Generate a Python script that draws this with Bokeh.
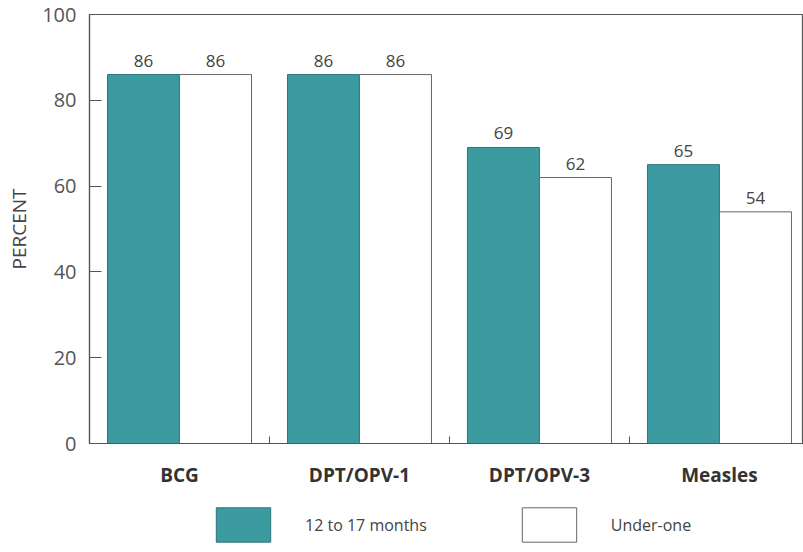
from bokeh.plotting import figure
from bokeh.models import (ColumnDataSource, Range1d, FixedTicker, LabelSet, Legend, LegendItem)
from bokeh.layouts import column
from bokeh.core.properties import value
from bokeh.embed import file_html
from bokeh.resources import INLINE

categories = ["BCG", "DPT/OPV-1", "DPT/OPV-3", "Measles"]
months_12_17 = [86, 86, 69, 65]
under_one = [86, 86, 62, 54]
y_ticks = [0, 20, 40, 60, 80, 100]
series_names = ["12 to 17 months", "Under-one"]

idx = list(range(len(categories)))
src1 = ColumnDataSource(dict(x=[i + 0.3 for i in idx], top=months_12_17, lab=[str(v) for v in months_12_17]))
src2 = ColumnDataSource(dict(x=[i + 0.7 for i in idx], top=under_one, lab=[str(v) for v in under_one]))

FONT = "Open Sans"
TEAL = "#3b9ba0"
TEAL_EDGE = "#2e7478"
GREY = "#555555"

p = figure(width=803, height=490, output_backend="svg", toolbar_location=None,
           x_range=Range1d(0, 3.967), y_range=Range1d(0, 100),
           min_border_left=89, min_border_right=0, min_border_top=14, min_border_bottom=45)
p.xgrid.visible = False
p.ygrid.visible = False
p.outline_line_color = GREY
p.outline_line_width = 1.2

p.vbar(x="x", top="top", width=0.4, bottom=0, source=src1, fill_color=TEAL, line_color=TEAL_EDGE, line_width=1)
p.vbar(x="x", top="top", width=0.4, bottom=0, source=src2, fill_color="white", line_color="#666666", line_width=1)

for s in (src1, src2):
    p.add_layout(LabelSet(x="x", y="top", text="lab", source=s, y_offset=8, text_align="center",
                          text_baseline="bottom", text_font=value(FONT), text_font_size="17px",
                          text_color="#444444"))

# x axis
xa = p.xaxis[0]
xa.ticker = FixedTicker(ticks=[i + 0.5 for i in idx], minor_ticks=[i for i in idx[1:]])
xa.major_label_overrides = {i + 0.5: c for i, c in zip(idx, categories)}
xa.major_tick_line_color = None
xa.major_tick_in = 0
xa.major_tick_out = 0
xa.minor_tick_in = 7
xa.minor_tick_out = 0
xa.minor_tick_line_color = GREY
xa.axis_line_color = GREY
xa.axis_line_width = 1.2
xa.major_label_text_font = FONT
xa.major_label_text_font_style = "bold"
xa.major_label_text_font_size = "19px"
xa.major_label_text_color = "#333333"
xa.major_label_standoff = 18

# y axis
ya = p.yaxis[0]
ya.ticker = FixedTicker(ticks=y_ticks)
ya.minor_tick_line_color = None
ya.major_tick_in = 12
ya.major_tick_out = 0
ya.major_tick_line_color = GREY
ya.axis_line_color = GREY
ya.axis_line_width = 1.2
ya.major_label_text_font = FONT
ya.major_label_text_font_size = "20px"
ya.major_label_text_color = "#555555"
ya.major_label_standoff = 13
ya.axis_label = "PERCENT"
ya.axis_label_text_font = FONT
ya.axis_label_text_font_style = "normal"
ya.axis_label_text_font_size = "19px"
ya.axis_label_text_color = "#444444"
ya.axis_label_standoff = 7

# legend strip (same bar renderers, drawn outside its visible range so only the legend shows)
lg = figure(width=803, height=62, output_backend="svg", toolbar_location=None,
            x_axis_location=None, y_axis_location=None,
            x_range=Range1d(0, 1), y_range=Range1d(500, 501),
            min_border_left=0, min_border_right=0, min_border_top=0, min_border_bottom=0)
lg.grid.visible = False
lg.outline_line_color = None
l1 = lg.vbar(x="x", top="top", width=0.4, bottom=0, source=src1,
             fill_color=TEAL, line_color=TEAL_EDGE, line_width=1)
l2 = lg.vbar(x="x", top="top", width=0.4, bottom=0, source=src2,
             fill_color="white", line_color="#666666", line_width=1)
legend = Legend(items=[LegendItem(label=series_names[0], renderers=[l1]),
                       LegendItem(label=series_names[1], renderers=[l2])],
                orientation="horizontal", location=(120, 6),
                glyph_width=68, glyph_height=43, label_standoff=28, spacing=88,
                padding=0, margin=0, border_line_color=None, background_fill_alpha=0,
                label_text_font=FONT, label_text_font_size="16px", label_text_color="#444444")
lg.add_layout(legend, "center")

layout = column(p, lg, spacing=0)
open("out.html", "w").write(file_html(layout, INLINE))
